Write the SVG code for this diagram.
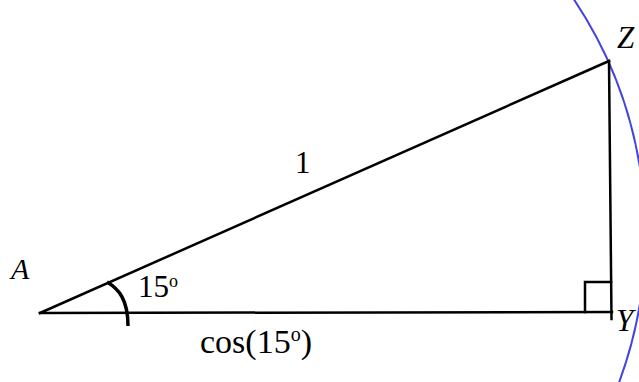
<svg xmlns="http://www.w3.org/2000/svg" width="639" height="382" viewBox="0 0 639 382">
<style>
.ln{stroke:#000;stroke-width:2.5;fill:none;stroke-linecap:square}
.t{font-family:"Liberation Serif","Times New Roman",serif;fill:#000}
.i{font-style:italic}
</style>
<rect width="639" height="382" fill="#fff"/>
<g id="circle-arc">
<path d="M573,-2 A425,425 0 0 1 618.5,384" fill="none" stroke="#4444dd" stroke-width="2"/>
</g>
<g id="connectors">
<line class="ln" x1="40" y1="313" x2="612" y2="312"/>
<line class="ln" x1="40" y1="313" x2="609" y2="61"/>
<line class="ln" x1="609" y1="61" x2="611.5" y2="319"/>
<polyline class="ln" points="585,312 585,282 611,282"/>
<path d="M107,282 C119,289 128,300 128,326" fill="none" stroke="#000" stroke-width="3.5"/>
</g>
<g id="A"><text class="t i" x="11" y="279" font-size="30">A</text></g>
<g id="Z"><text class="t i" x="617" y="48" font-size="31">Z</text></g>
<g id="Y"><text class="t i" x="616" y="331" font-size="31">Y</text></g>
<g id="label-1"><text class="t" x="295" y="173" font-size="31">1</text></g>
<g id="label-angle"><text class="t" x="138" y="297" font-size="31">15<tspan font-size="18" dy="-10">o</tspan></text></g>
<g id="label-cos"><text class="t" x="200" y="353" font-size="34">cos(15<tspan font-size="20" dy="-12">o</tspan><tspan dy="12">)</tspan></text></g>
</svg>
